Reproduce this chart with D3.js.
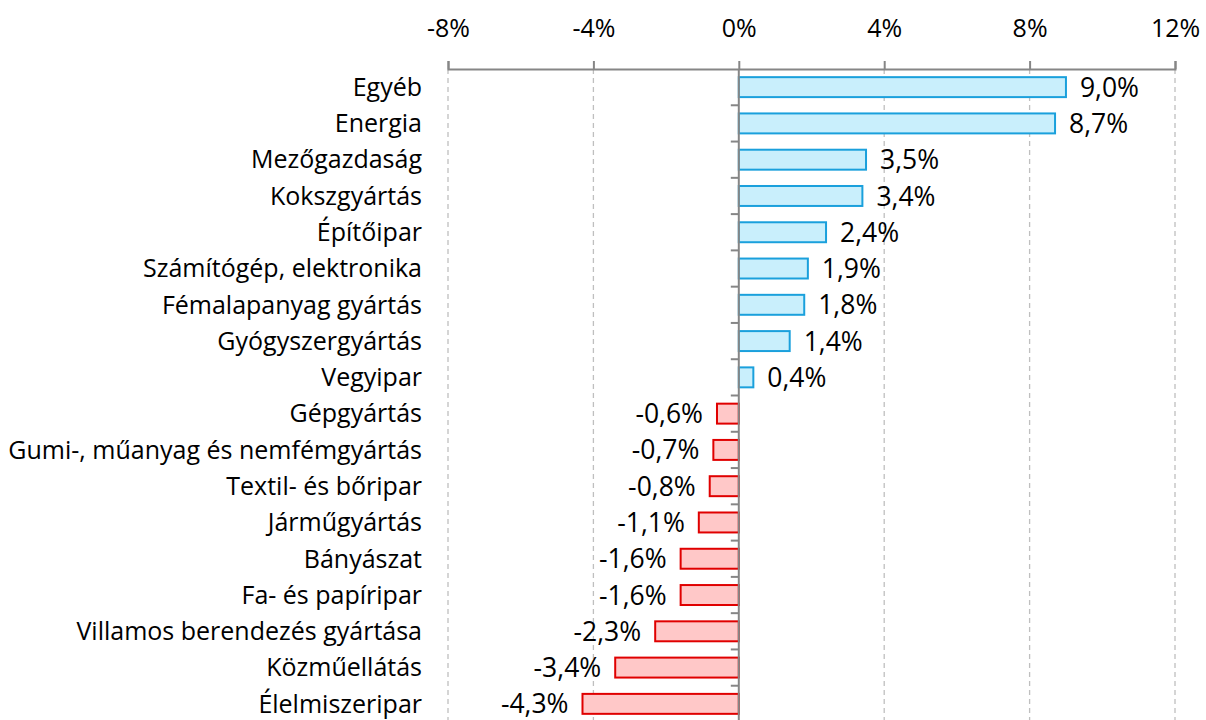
<!DOCTYPE html>
<head>
    <meta charset="UTF-8">
    <title>Ágazatok</title>
</head>
<style>
    body { margin: 0; background: #fff; }
    text { font-family: "Open Sans", "Noto Sans", sans-serif; fill: #000; }
</style>
<body>
<script src="https://d3js.org/d3.v7.min.js"></script>
<script>
    var categories = ["Egyéb", "Energia", "Mezőgazdaság", "Kokszgyártás", "Építőipar",
        "Számítógép, elektronika", "Fémalapanyag gyártás", "Gyógyszergyártás", "Vegyipar",
        "Gépgyártás", "Gumi-, műanyag és nemfémgyártás", "Textil- és bőripar", "Járműgyártás",
        "Bányászat", "Fa- és papíripar", "Villamos berendezés gyártása", "Közműellátás", "Élelmiszeripar"];
    var values = [9.0, 8.7, 3.5, 3.4, 2.4, 1.9, 1.8, 1.4, 0.4,
        -0.6, -0.7, -0.8, -1.1, -1.6, -1.6, -2.3, -3.4, -4.3];
    var xTicks = [-8, -4, 0, 4, 8, 12];

    var width = 1206, height = 720;
    var plot = {left: 448, right: 1175, top: 69, bottom: 722};

    var svg = d3.select("body").append("svg")
        .attr("width", width)
        .attr("height", height);

    var x = d3.scaleLinear().domain([-8, 12]).range([plot.left, plot.right]);
    var y = d3.scaleBand().domain(categories).range([plot.top, plot.bottom]).paddingInner(0.45).paddingOuter(0.225);

    // szaggatott rács
    svg.append("g").selectAll("line")
        .data(xTicks.filter(function(d) { return d !== 0; }))
        .enter().append("line")
        .attr("x1", function(d) { return x(d); })
        .attr("x2", function(d) { return x(d); })
        .attr("y1", plot.top)
        .attr("y2", height)
        .attr("stroke", "#bfbfbf")
        .attr("stroke-width", 1.3)
        .attr("stroke-dasharray", "5,4");

    // felső tengely
    var axis = svg.append("g")
        .attr("transform", "translate(0," + plot.top + ")")
        .call(d3.axisTop(x).tickValues(xTicks).tickSize(8).tickPadding(24)
            .tickFormat(function(d) { return d + "%"; }));
    axis.select(".domain").attr("stroke", "#868686").attr("stroke-width", 2);
    axis.selectAll(".tick line").attr("stroke", "#868686").attr("stroke-width", 2);
    axis.selectAll("text").style("font-size", "25px").attr("dy", 0).attr("fill", "#000");

    // oszlopok
    svg.append("g").selectAll("rect")
        .data(values)
        .enter().append("rect")
        .attr("x", function(d) { return x(Math.min(0, d)); })
        .attr("y", function(d, i) { return y(categories[i]); })
        .attr("width", function(d) { return Math.abs(x(d) - x(0)); })
        .attr("height", y.bandwidth())
        .attr("fill", function(d) { return d >= 0 ? "#c9effc" : "#ffc8c8"; })
        .attr("stroke", function(d) { return d >= 0 ? "#1aa0dc" : "#e00000"; })
        .attr("stroke-width", 2);

    // kategória tengely a nullánál
    var step = y.step();
    svg.append("line")
        .attr("x1", x(0)).attr("x2", x(0))
        .attr("y1", plot.top).attr("y2", height)
        .attr("stroke", "#868686").attr("stroke-width", 2);
    svg.append("g").selectAll("line")
        .data(d3.range(1, categories.length))
        .enter().append("line")
        .attr("x1", x(0) - 8).attr("x2", x(0))
        .attr("y1", function(k) { return plot.top + k * step; })
        .attr("y2", function(k) { return plot.top + k * step; })
        .attr("stroke", "#868686").attr("stroke-width", 2);

    // kategória feliratok
    svg.append("g").selectAll("text")
        .data(categories)
        .enter().append("text")
        .attr("x", 422)
        .attr("y", function(d) { return y(d) + y.bandwidth() / 2; })
        .attr("dy", "0.35em")
        .attr("text-anchor", "end")
        .style("font-size", "25px")
        .text(function(d) { return d; });

    // érték feliratok
    svg.append("g").selectAll("text")
        .data(values)
        .enter().append("text")
        .attr("x", function(d) { return d >= 0 ? x(d) + 14 : x(d) - 14; })
        .attr("y", function(d, i) { return y(categories[i]) + y.bandwidth() / 2; })
        .attr("dy", "0.36em")
        .attr("text-anchor", function(d) { return d >= 0 ? "start" : "end"; })
        .style("font-size", "26.5px")
        .text(function(d) { return d3.format(".1f")(d).replace(".", ",").replace("−", "-") + "%"; });
</script>
</body>
